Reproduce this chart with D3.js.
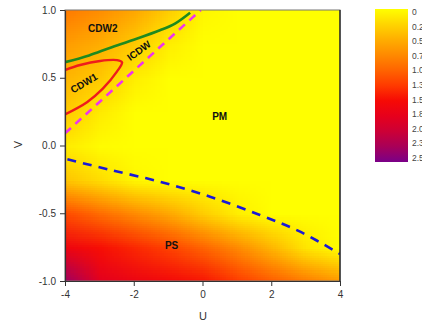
<!DOCTYPE html>
<html>
<head>
<meta charset="utf-8">
<script src="https://cdn.jsdelivr.net/npm/d3@7"></script>
<style>
  html, body { margin: 0; padding: 0; background: #fff; }
  svg { display: block; font-family: "Liberation Sans", Arial, sans-serif; }
</style>
</head>
<body>
<div id="chart"></div>
<script>
// ---------- data ----------
const gridU = [-4, -3, -2, -1, 0, 1, 2, 3, 4];
const gridV = [1, 0.75, 0.5, 0.25, 0, -0.25, -0.5, -0.75, -1];
// one row per gridV, one column per gridU
const fieldValues = [
  [0.85, 0.72, 0.55, 0.30, 0.05, 0, 0, 0, 0],
  [0.62, 0.50, 0.32, 0.10, 0, 0, 0, 0, 0],
  [0.45, 0.33, 0.10, 0, 0, 0, 0, 0, 0],
  [0.32, 0.12, 0, 0, 0, 0, 0, 0, 0],
  [0.12, 0.02, 0, 0, 0, 0, 0, 0, 0],
  [0.35, 0.20, 0.05, 0, 0, 0, 0, 0, 0],
  [1.15, 0.95, 0.75, 0.55, 0.30, 0.10, 0, 0, 0],
  [1.62, 1.48, 1.35, 1.20, 1.00, 0.75, 0.45, 0.15, 0],
  [2.30, 1.78, 1.65, 1.55, 1.45, 1.25, 1.05, 0.85, 0.65]
];

const cdw2Line = [[-4, 0.615], [-3.3, 0.665], [-2.7, 0.72], [-2, 0.78], [-1.24, 0.85], [-0.8, 0.9], [-0.36, 0.98]];
const cdw1Line = [[-4, 0.557], [-3.56, 0.594], [-2.98, 0.624], [-2.49, 0.63], [-2.34, 0.614],
                  [-2.49, 0.545], [-2.9, 0.42], [-3.36, 0.32], [-4, 0.23]];
const icdwLine = [[-4, 0.09], [-2.2, 0.505], [-0.05, 1.0]];
const psLine = [[-3.93, -0.102], [-2.69, -0.18], [-1.24, -0.267], [0.22, -0.378], [1.67, -0.513], [2.84, -0.636], [4, -0.8]];

const xTicks = [-4, -2, 0, 2, 4];
const yTicks = [1, 0.5, 0, -0.5, -1];
const barStops = [0, 0.25, 0.5, 0.75, 1, 1.25, 1.5, 1.75, 2, 2.25, 2.5];
const barColors = ['#ffff00', '#ffd500', '#ffae00', '#ff8a00', '#ff6400', '#ff3a00', '#f60a05',
                   '#e6001c', '#cc0036', '#a80058', '#7a0088'];
const barLabels = ['0', '0.25', '0.50', '0.75', '1.0', '1.3', '1.5', '1.8', '2.0', '2.3', '2.5'];

const regionLabels = [
  {text: 'CDW2', u: -2.9, v: 0.86, rot: 0},
  {text: 'ICDW', u: -1.85, v: 0.70, rot: -36},
  {text: 'CDW1', u: -3.45, v: 0.46, rot: -30},
  {text: 'PM', u: 0.5, v: 0.215, rot: 0},
  {text: 'PS', u: -0.9, v: -0.735, rot: 0}
];

// ---------- setup ----------
const W = 422, H = 324;
const x = d3.scaleLinear().domain([-4, 4]).range([65, 340]);
const y = d3.scaleLinear().domain([-1, 1]).range([281, 10]);
const color = d3.scaleLinear().domain(barStops).range(barColors).clamp(true);

const svg = d3.select('#chart').append('svg').attr('width', W).attr('height', H);
const defs = svg.append('defs');

defs.append('clipPath').attr('id', 'plotClip')
  .append('rect')
  .attr('x', x(-4)).attr('y', y(1))
  .attr('width', x(4) - x(-4)).attr('height', y(-1) - y(1));

// heat map: small image of the grid, smoothed by the browser when scaled up
const cnv = document.createElement('canvas');
cnv.width = gridU.length; cnv.height = gridV.length;
const ctx = cnv.getContext('2d');
const img = ctx.createImageData(cnv.width, cnv.height);
fieldValues.forEach((row, j) => {
  row.forEach((val, i) => {
    const c = d3.rgb(color(val));
    const k = (j * cnv.width + i) * 4;
    img.data[k] = c.r; img.data[k + 1] = c.g; img.data[k + 2] = c.b; img.data[k + 3] = 255;
  });
});
ctx.putImageData(img, 0, 0);

// cells are centred on the grid points, so the image runs half a cell past the axes
const du = (gridU[1] - gridU[0]) / 2, dv = (gridV[0] - gridV[1]) / 2;
svg.append('g').attr('clip-path', 'url(#plotClip)')
  .append('image')
  .attr('href', cnv.toDataURL())
  .attr('x', x(gridU[0] - du)).attr('y', y(gridV[0] + dv))
  .attr('width', x(gridU[gridU.length - 1] + du) - x(gridU[0] - du))
  .attr('height', y(gridV[gridV.length - 1] - dv) - y(gridV[0] + dv))
  .attr('preserveAspectRatio', 'none')
  .style('image-rendering', 'auto');

// ---------- phase boundaries ----------
const line = d3.line().x(d => x(d[0])).y(d => y(d[1]));
const curves = svg.append('g').attr('clip-path', 'url(#plotClip)').attr('fill', 'none');

curves.append('path')
  .attr('d', line.curve(d3.curveCatmullRom)(cdw2Line))
  .attr('stroke', '#1f8a1f').attr('stroke-width', 2.6);

curves.append('path')
  .attr('d', line.curve(d3.curveCatmullRom)(cdw1Line))
  .attr('stroke', '#ee1c1c').attr('stroke-width', 2.4);

curves.append('path')
  .attr('d', line.curve(d3.curveLinear)(icdwLine))
  .attr('stroke', '#ee33ee').attr('stroke-width', 2.6)
  .attr('stroke-dasharray', '8,6');

curves.append('path')
  .attr('d', line.curve(d3.curveCatmullRom)(psLine))
  .attr('stroke', '#1a1ad6').attr('stroke-width', 2.6)
  .attr('stroke-dasharray', '9,7');

// region names
svg.append('g').selectAll('text').data(regionLabels).join('text')
  .attr('transform', d => `translate(${x(d.u)},${y(d.v)}) rotate(${d.rot})`)
  .attr('text-anchor', 'middle').attr('dy', '0.35em')
  .attr('font-size', 10).attr('font-weight', 'bold').attr('fill', '#111')
  .text(d => d.text);

// ---------- frame and axes ----------
svg.append('rect')
  .attr('x', x(-4)).attr('y', y(1))
  .attr('width', x(4) - x(-4)).attr('height', y(-1) - y(1))
  .attr('fill', 'none').attr('stroke', '#777').attr('stroke-width', 1);
svg.append('line').attr('x1', x(4)).attr('x2', x(4)).attr('y1', y(1)).attr('y2', y(-1))
  .attr('stroke', '#111').attr('stroke-width', 1.2);

// plain hyphen for negatives, like the original
const hyph = f => d => f(d).replace('\u2212', '-');
const xAxis = svg.append('g').attr('transform', `translate(0,${y(-1)})`)
  .call(d3.axisBottom(x).tickValues(xTicks).tickFormat(hyph(d3.format('d'))).tickSize(5).tickSizeOuter(0));
const yAxis = svg.append('g').attr('transform', `translate(${x(-4)},0)`)
  .call(d3.axisLeft(y).tickValues(yTicks).tickFormat(hyph(d3.format('.1f'))).tickSize(5).tickSizeOuter(0));

[xAxis, yAxis].forEach(g => {
  g.select('.domain').attr('stroke', '#333').attr('stroke-width', 1.2);
  g.selectAll('.tick line').attr('stroke', '#333');
  g.selectAll('.tick text').attr('fill', '#333').attr('font-size', 10)
    .attr('font-family', '"Liberation Sans", Arial, sans-serif');
});
xAxis.selectAll('.tick text').attr('dy', '0.9em');
yAxis.selectAll('.tick text').attr('dx', '-0.1em');

svg.append('text').attr('x', 203).attr('y', 320).attr('text-anchor', 'middle')
  .attr('font-size', 11).attr('fill', '#333').text('U');
svg.append('text').attr('transform', `translate(22,${y(0) - 1}) rotate(-90)`)
  .attr('text-anchor', 'middle').attr('font-size', 11).attr('fill', '#333').text('V');

// ---------- colour bar ----------
const grad = defs.append('linearGradient').attr('id', 'barGrad')
  .attr('x1', 0).attr('x2', 0).attr('y1', 0).attr('y2', 1);
grad.selectAll('stop').data(barStops).join('stop')
  .attr('offset', d => d / 2.5)
  .attr('stop-color', d => color(d));

svg.append('rect').attr('x', 375).attr('y', 9).attr('width', 33).attr('height', 153)
  .attr('fill', 'url(#barGrad)');

// labels run past the right edge of the window, as in the original
const barY = d3.scaleLinear().domain([0, 2.5]).range([12, 158]);
svg.append('g').selectAll('text').data(barStops).join('text')
  .attr('x', 412).attr('y', d => barY(d)).attr('dy', '0.35em')
  .attr('font-size', 8.5).attr('fill', '#444')
  .text((d, i) => barLabels[i]);
</script>
</body>
</html>
